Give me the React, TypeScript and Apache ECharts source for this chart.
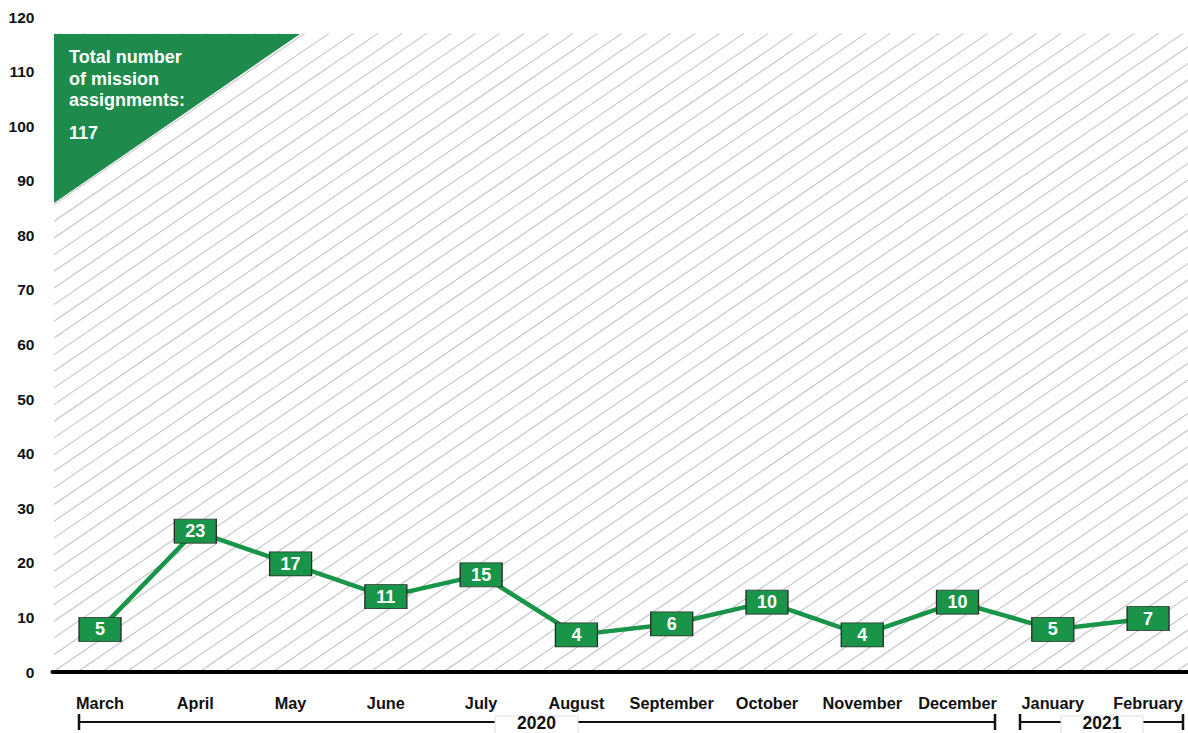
import React, { useEffect, useRef } from "react";
import * as echarts from "echarts";

const months = [
  "March", "April", "May", "June", "July", "August",
  "September", "October", "November", "December", "January", "February",
];
const assignments = [5, 23, 17, 11, 15, 4, 6, 10, 4, 10, 5, 7];
const yMin = 0;
const yMax = 120;
const yStep = 10;
const hatchTop = 117;
const totalLines = ["Total number", "of mission", "assignments:"];
const totalValue = "117";
const years = ["2020", "2021"];

const GREEN = "#1a9448";
const TRI_GREEN = "#1e8b4c";
const FONT = "'Liberation Sans', Arial, sans-serif";

export default function App() {
  const ref = useRef<HTMLDivElement>(null);

  useEffect(() => {
    document.body.style.margin = "0";
    document.body.style.overflow = "hidden";
    document.documentElement.style.overflow = "hidden";
    const chart = echarts.init(ref.current!, null, { renderer: "svg" });

    const hatchItem = (params: any, api: any) => {
      const bw = api.size([1, 0])[0];
      const p0 = api.coord([0, 0]);
      const x0 = p0[0] - bw / 2 + 1.6;
      const yb = p0[1];
      const yt = api.coord([0, hatchTop])[1];
      const x1 = params.coordSys.x + params.coordSys.width;
      const m = 0.683;
      const step = 24.4;
      const H = yb - yt;
      const run = H / m;
      const children: any[] = [];
      let xt = x0 + 6.7 - Math.ceil(run / step) * step;
      for (; xt < x1 + run + step; xt += step) {
        let xa = xt - run;
        let ya = yb;
        let xb = xt;
        let yb2 = yt;
        if (xa < x0) {
          ya = yb - m * (x0 - xa);
          xa = x0;
        }
        if (xb > x1) {
          yb2 = yt + m * (xb - x1);
          xb = x1;
        }
        if (xa >= xb) continue;
        children.push({
          type: "line",
          shape: { x1: xa, y1: ya, x2: xb, y2: yb2 },
          style: { stroke: "#c4c4c4", lineWidth: 1.1 },
        });
      }
      return { type: "group", children };
    };

    const bracket = (xa: number, xb: number, y: number) => [
      { type: "line", shape: { x1: xa, y1: y, x2: xb, y2: y }, style: { stroke: "#111", lineWidth: 2 }, z: 10 },
      { type: "line", shape: { x1: xa, y1: y - 8, x2: xa, y2: y + 8 }, style: { stroke: "#111", lineWidth: 2.5 }, z: 10 },
      { type: "line", shape: { x1: xb, y1: y - 8, x2: xb, y2: y + 8 }, style: { stroke: "#111", lineWidth: 2.5 }, z: 10 },
    ];
    const yearBox = (label: string, xa: number, xb: number) => [
      { type: "rect", shape: { x: xa, y: 716, width: xb - xa, height: 30 }, style: { fill: "#fff", stroke: "#dddddd", lineWidth: 1 }, z: 11 },
      {
        type: "text", x: (xa + xb) / 2, y: 723,
        style: { text: label, fill: "#111", font: `bold 17.5px ${FONT}`, align: "center", verticalAlign: "middle" },
        z: 12,
      },
    ];

    chart.setOption({
      animation: false,
      backgroundColor: "#fff",
      textStyle: { fontFamily: FONT },
      grid: { left: 52.4, top: 17, width: 1143.3, height: 655 },
      xAxis: {
        type: "category",
        data: months,
        boundaryGap: true,
        axisLine: { show: true, lineStyle: { color: "#000", width: 4 } },
        axisTick: { show: false },
        axisLabel: { interval: 0, margin: 23, color: "#111", fontSize: 16.3, fontWeight: "bold", fontFamily: FONT },
        splitLine: { show: false },
        z: 5,
      },
      yAxis: [
        {
          type: "value",
          min: yMin,
          max: yMax,
          interval: yStep,
          axisLine: { show: false },
          axisTick: { show: false },
          splitLine: { show: false },
          axisLabel: { margin: 18, color: "#111", fontSize: 15.5, fontWeight: "bold", fontFamily: FONT },
        },
        {
          type: "value",
          show: false,
          min: -2.8,
          max: 117.2,
          splitLine: { show: false },
        },
      ],
      series: [
        {
          type: "custom",
          yAxisIndex: 0,
          data: [0],
          renderItem: hatchItem,
          silent: true,
          clip: false,
          z: 1,
        },
        {
          type: "line",
          yAxisIndex: 1,
          data: assignments,
          symbol: "rect",
          symbolSize: [42, 24],
          lineStyle: { color: GREEN, width: 4.5 },
          itemStyle: { color: GREEN, borderColor: "#2a2a2a", borderWidth: 1 },
          label: {
            show: true,
            position: "inside",
            color: "#fff",
            fontSize: 18,
            fontWeight: "bold",
            fontFamily: FONT,
          },
          z: 4,
        },
      ],
      graphic: [
        { type: "polygon", shape: { points: [[54, 34], [300, 34], [54, 203]] }, style: { fill: TRI_GREEN }, z: 10 },
        ...totalLines.map((t, i) => ({
          type: "text", x: 69, y: 57 + i * 21.5,
          style: { text: t, fill: "#fff", font: `bold 18px ${FONT}`, verticalAlign: "middle" },
          z: 11,
        })),
        {
          type: "text", x: 69, y: 133,
          style: { text: totalValue, fill: "#fff", font: `bold 18px ${FONT}`, verticalAlign: "middle" },
          z: 11,
        },
        ...bracket(79, 995, 722),
        ...bracket(1020, 1183, 722),
        ...yearBox(years[0], 495, 578),
        ...yearBox(years[1], 1061, 1143),
      ],
    });

    return () => chart.dispose();
  }, []);

  return (
    <div
      ref={ref}
      style={{ position: "fixed", left: 0, top: 0, width: 1200, height: 733 }}
    />
  );
}
